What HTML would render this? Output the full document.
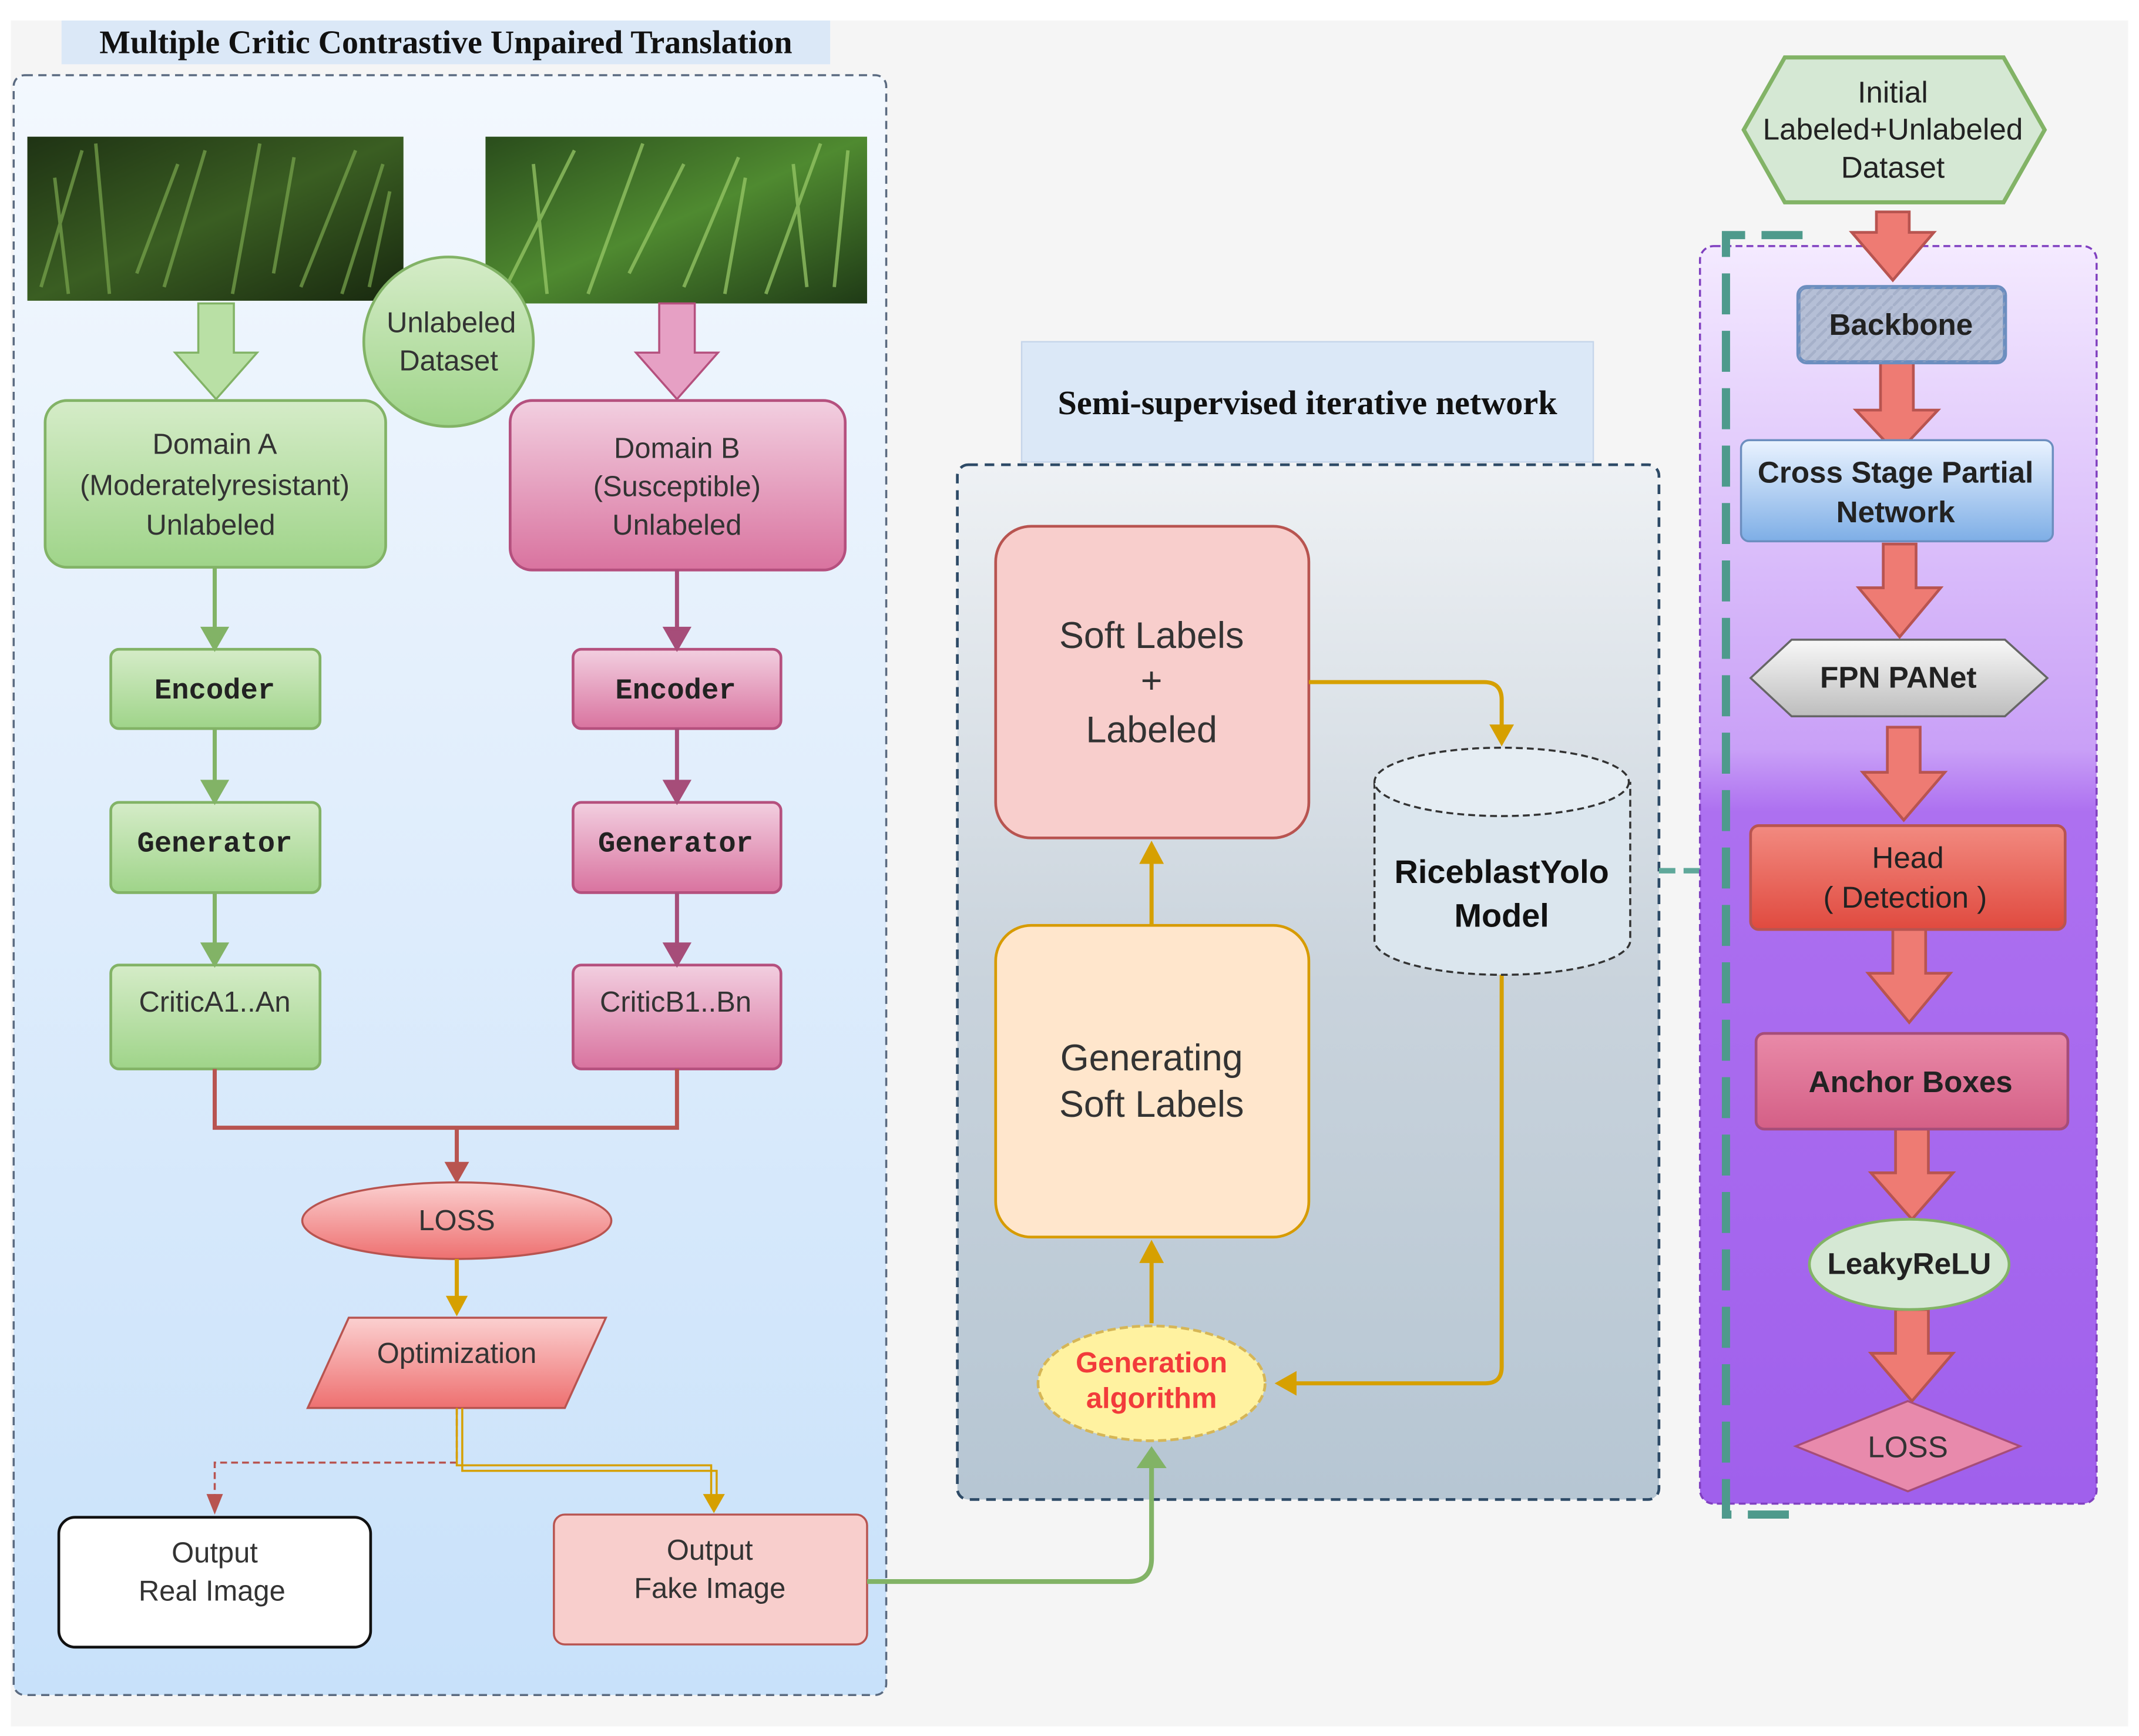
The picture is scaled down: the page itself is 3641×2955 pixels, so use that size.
<!DOCTYPE html>
<html><head><meta charset="utf-8"><style>
html,body{margin:0;padding:0;background:#fff}
svg{display:block}
</style></head><body>
<svg width="3641" height="2955" viewBox="0 0 1564 1270" preserveAspectRatio="none" xmlns="http://www.w3.org/2000/svg" font-family="Liberation Sans, DejaVu Sans, sans-serif">
<defs>
<linearGradient id="lb" x1="0" y1="0" x2="0" y2="1"><stop offset="0" stop-color="#f3f8fe"/><stop offset="0.4" stop-color="#e3effc"/><stop offset="1" stop-color="#c8e1fa"/></linearGradient>
<linearGradient id="mg" x1="0" y1="0" x2="0" y2="1"><stop offset="0" stop-color="#eef1f4"/><stop offset="0.5" stop-color="#c9d3dc"/><stop offset="1" stop-color="#b6c6d3"/></linearGradient>
<linearGradient id="pp" x1="0" y1="0" x2="0" y2="1"><stop offset="0" stop-color="#f4eaff"/><stop offset="0.4" stop-color="#c9a0f7"/><stop offset="0.45" stop-color="#ad70f0"/><stop offset="1" stop-color="#a060ec"/></linearGradient>
<linearGradient id="gA" x1="0" y1="0" x2="0" y2="1"><stop offset="0" stop-color="#d5ecc8"/><stop offset="1" stop-color="#9fd489"/></linearGradient>
<linearGradient id="pB" x1="0" y1="0" x2="0" y2="1"><stop offset="0" stop-color="#f2cfe0"/><stop offset="1" stop-color="#d9739f"/></linearGradient>
<linearGradient id="rd" x1="0" y1="0" x2="0" y2="1"><stop offset="0" stop-color="#fbd0d0"/><stop offset="1" stop-color="#ee7070"/></linearGradient>
<linearGradient id="bl" x1="0" y1="0" x2="0" y2="1"><stop offset="0" stop-color="#eaf3ff"/><stop offset="1" stop-color="#7eaee6"/></linearGradient>
<linearGradient id="gr" x1="0" y1="0" x2="0" y2="1"><stop offset="0" stop-color="#f8f8f8"/><stop offset="1" stop-color="#bdbdbd"/></linearGradient>
<linearGradient id="hd" x1="0" y1="0" x2="0" y2="1"><stop offset="0" stop-color="#f28a80"/><stop offset="1" stop-color="#e04a3f"/></linearGradient>
<linearGradient id="an" x1="0" y1="0" x2="0" y2="1"><stop offset="0" stop-color="#e98aa8"/><stop offset="1" stop-color="#d45f86"/></linearGradient>
<linearGradient id="grass1" x1="0" y1="0" x2="1" y2="1"><stop offset="0" stop-color="#1f3314"/><stop offset="0.5" stop-color="#3a5e22"/><stop offset="1" stop-color="#18280f"/></linearGradient>
<linearGradient id="grass2" x1="0" y1="0" x2="1" y2="1"><stop offset="0" stop-color="#2a4d1c"/><stop offset="0.5" stop-color="#4f8a30"/><stop offset="1" stop-color="#1f3a16"/></linearGradient>
<pattern id="str" width="8" height="8" patternUnits="userSpaceOnUse"><path d="M0 8 L8 0" stroke="#9aa6c0" stroke-width="2"/></pattern>
</defs>
<rect x="8" y="15" width="1548" height="1248" fill="#f5f5f5"/>
<rect x="10" y="55" width="638" height="1185" rx="8" fill="url(#lb)" stroke="#5a6a80" stroke-dasharray="6 4" stroke-width="1.5"/>
<rect x="45" y="15" width="562" height="32" fill="#dbe8f7"/>
<text x="326" y="39" style="font-family:'Liberation Serif',serif" font-weight="bold" font-size="24" text-anchor="middle" fill="#111">Multiple Critic Contrastive Unpaired Translation</text>
<rect x="20" y="100" width="275" height="120" fill="url(#grass1)"/>
<rect x="355" y="100" width="279" height="122" fill="url(#grass2)"/>
<g stroke="#7aa64e" stroke-width="2.5" opacity="0.7"><path d="M30 210 L60 110 M50 215 L40 130 M80 215 L70 105 M100 200 L130 120 M120 210 L150 110 M170 215 L190 105 M200 200 L215 115 M220 210 L260 110 M250 215 L280 120 M270 210 L285 140"/></g>
<g stroke="#9ccc6a" stroke-width="2.5" opacity="0.7"><path d="M370 210 L420 110 M400 215 L390 120 M430 215 L470 105 M460 200 L500 120 M500 210 L540 115 M530 215 L545 130 M560 215 L600 105 M590 210 L580 120 M610 210 L620 110"/></g>
<circle cx="328" cy="250" r="62" fill="url(#gA)" stroke="#82b366" stroke-width="2"/>
<text x="330" y="243" font-size="21" text-anchor="middle" fill="#333">Unlabeled</text>
<text x="328" y="271" font-size="21" text-anchor="middle" fill="#333">Dataset</text>
<path d="M145 222 H171 V258 H188 L158 292 L128 258 H145 Z" fill="#b9e0a5" stroke="#82b366" stroke-width="1.5"/>
<path d="M482 222 H508 V258 H525 L495 292 L465 258 H482 Z" fill="#e6a0c4" stroke="#b5507e" stroke-width="1.5"/>
<rect x="33" y="293" width="249" height="122" rx="16" fill="url(#gA)" stroke="#82b366" stroke-width="2"/>
<text x="157" y="332" font-size="21" text-anchor="middle" fill="#333">Domain A</text>
<text x="157" y="362" font-size="21" text-anchor="middle" fill="#333">(Moderatelyresistant)</text>
<text x="154" y="391" font-size="21" text-anchor="middle" fill="#333">Unlabeled</text>
<rect x="373" y="293" width="245" height="124" rx="16" fill="url(#pB)" stroke="#b5507e" stroke-width="2"/>
<text x="495" y="335" font-size="21" text-anchor="middle" fill="#333">Domain B</text>
<text x="495" y="363" font-size="21" text-anchor="middle" fill="#333">(Susceptible)</text>
<text x="495" y="391" font-size="21" text-anchor="middle" fill="#333">Unlabeled</text>
<g style="font-family:'Liberation Mono',monospace" font-weight="bold" font-size="21" text-anchor="middle" fill="#222">
<rect x="81" y="475" width="153" height="58" rx="6" fill="url(#gA)" stroke="#82b366" stroke-width="2"/><text x="157" y="511">Encoder</text>
<rect x="81" y="587" width="153" height="66" rx="6" fill="url(#gA)" stroke="#82b366" stroke-width="2"/><text x="157" y="623">Generator</text>
<rect x="419" y="475" width="152" height="58" rx="6" fill="url(#pB)" stroke="#b5507e" stroke-width="2"/><text x="494" y="511">Encoder</text>
<rect x="419" y="587" width="152" height="66" rx="6" fill="url(#pB)" stroke="#b5507e" stroke-width="2"/><text x="494" y="623">Generator</text>
</g>
<rect x="81" y="706" width="153" height="76" rx="6" fill="url(#gA)" stroke="#82b366" stroke-width="2"/><text x="157" y="740" font-size="21" text-anchor="middle" fill="#333">CriticA1..An</text>
<rect x="419" y="706" width="152" height="76" rx="6" fill="url(#pB)" stroke="#b5507e" stroke-width="2"/><text x="494" y="740" font-size="21" text-anchor="middle" fill="#333">CriticB1..Bn</text>
<g stroke="#82b366" stroke-width="3" fill="#82b366"><path d="M157 415 V462 M157 533 V574 M157 653 V693" fill="none"/><path d="M149 460 L157 474 L165 460Z M149 572 L157 586 L165 572Z M149 691 L157 705 L165 691Z"/></g>
<g stroke="#a64d79" stroke-width="3" fill="#a64d79"><path d="M495 417 V462 M495 533 V574 M495 653 V693" fill="none"/><path d="M487 460 L495 474 L503 460Z M487 572 L495 586 L503 572Z M487 691 L495 705 L503 691Z"/></g>
<path d="M157 782 V825 H495 V782 M334 825 V852" stroke="#b85450" stroke-width="3" fill="none"/>
<path d="M325 850 L334 866 L343 850Z" fill="#b85450"/>
<ellipse cx="334" cy="893" rx="113" ry="28" fill="url(#rd)" stroke="#b85450" stroke-width="1.5"/>
<text x="334" y="900" font-size="21" text-anchor="middle" fill="#333">LOSS</text>
<path d="M334 921 V950" stroke="#d6a000" stroke-width="3"/><path d="M326 948 L334 963 L342 948Z" fill="#d6a000"/>
<path d="M255 964 H443 L413 1030 H225 Z" fill="url(#rd)" stroke="#b85450" stroke-width="1.5"/>
<text x="334" y="997" font-size="21" text-anchor="middle" fill="#333">Optimization</text>
<path d="M334 1030 V1070 H157 V1095" stroke="#b85450" stroke-width="1.5" stroke-dasharray="5 3" fill="none"/>
<path d="M151 1093 L157 1108 L163 1093Z" fill="#b85450"/>
<path d="M334 1030 V1072 H520 V1095 M338 1030 V1076 H524 V1095" stroke="#d6a000" stroke-width="1.5" fill="none"/>
<path d="M514 1093 L522 1107 L530 1093Z" fill="#d6a000"/>
<rect x="43" y="1110" width="228" height="95" rx="12" fill="#fff" stroke="#111" stroke-width="2"/>
<text x="157" y="1143" font-size="21" text-anchor="middle" fill="#333">Output</text>
<text x="155" y="1171" font-size="21" text-anchor="middle" fill="#333">Real Image</text>
<rect x="405" y="1108" width="229" height="95" rx="8" fill="#f8cecc" stroke="#b85450" stroke-width="1.5"/>
<text x="519" y="1141" font-size="21" text-anchor="middle" fill="#333">Output</text>
<text x="519" y="1169" font-size="21" text-anchor="middle" fill="#333">Fake Image</text>
<rect x="747" y="250" width="418" height="88" fill="#dbe8f7" stroke="#c5d5ea"/>
<text x="956" y="303" style="font-family:'Liberation Serif',serif" font-weight="bold" font-size="25" text-anchor="middle" fill="#111">Semi-supervised iterative network</text>
<rect x="700" y="340" width="513" height="757" rx="8" fill="url(#mg)" stroke="#2d4a66" stroke-width="2" stroke-dasharray="7 5"/>
<path d="M634 1157 H825 Q842 1157 842 1140 V1070" stroke="#82b366" stroke-width="3.5" fill="none"/>
<path d="M831 1074 L842 1058 L853 1074Z" fill="#82b366"/>
<rect x="728" y="385" width="229" height="228" rx="26" fill="#f8cecc" stroke="#b85450" stroke-width="2"/>
<text x="842" y="474" font-size="27" text-anchor="middle" fill="#333">Soft Labels</text>
<text x="842" y="507" font-size="27" text-anchor="middle" fill="#333">+</text>
<text x="842" y="543" font-size="27" text-anchor="middle" fill="#333">Labeled</text>
<rect x="728" y="677" width="229" height="228" rx="26" fill="#ffe6cc" stroke="#d79b00" stroke-width="2"/>
<text x="842" y="783" font-size="27" text-anchor="middle" fill="#333">Generating</text>
<text x="842" y="817" font-size="27" text-anchor="middle" fill="#333">Soft Labels</text>
<g stroke="#d6a000" stroke-width="3" fill="none"><path d="M842 677 V628"/><path d="M842 968 V920"/><path d="M957 499 H1085 Q1098 499 1098 512 V532"/><path d="M1098 713 V1000 Q1098 1012 1086 1012 H946"/></g>
<g fill="#d6a000"><path d="M833 632 L842 615 L851 632Z"/><path d="M833 924 L842 907 L851 924Z"/><path d="M1089 530 L1098 546 L1107 530Z"/><path d="M948 1003 L932 1012 L948 1021Z"/></g>
<path d="M1005 572 V688 A93 25 0 0 0 1192 688 V572" fill="#dbe6ee" stroke="#333" stroke-width="1.5" stroke-dasharray="5 3"/>
<ellipse cx="1098" cy="572" rx="93" ry="25" fill="#e5edf3" stroke="#333" stroke-width="1.5" stroke-dasharray="5 3"/>
<text x="1098" y="646" font-weight="bold" font-size="24" text-anchor="middle" fill="#111">RiceblastYolo</text>
<text x="1098" y="678" font-weight="bold" font-size="24" text-anchor="middle" fill="#111">Model</text>
<ellipse cx="842" cy="1012" rx="83" ry="42" fill="#fff2a0" stroke="#d6b656" stroke-width="2" stroke-dasharray="6 3"/>
<text x="842" y="1004" font-weight="bold" font-size="21" text-anchor="middle" fill="#f23b3b">Generation</text>
<text x="842" y="1030" font-weight="bold" font-size="21" text-anchor="middle" fill="#f23b3b">algorithm</text>
<path d="M1213 637 H1243" stroke="#5fa89a" stroke-width="4" stroke-dasharray="12 6"/>
<rect x="1243" y="180" width="290" height="920" rx="10" fill="url(#pp)" stroke="#8040c0" stroke-width="1.5" stroke-dasharray="5 3"/>
<path d="M1318 172 H1262 V1108 H1318" stroke="#4e9a8c" stroke-width="6" fill="none" stroke-dasharray="30 12"/>
<path d="M1305 42 H1465 L1495 95 L1465 148 H1305 L1275 95 Z" fill="#d5e8d4" stroke="#82b366" stroke-width="3"/>
<text x="1384" y="75" font-size="22" text-anchor="middle" fill="#222">Initial</text>
<text x="1384" y="102" font-size="22" text-anchor="middle" fill="#222">Labeled+Unlabeled</text>
<text x="1384" y="130" font-size="22" text-anchor="middle" fill="#222">Dataset</text>
<g fill="#ee7b73" stroke="#b85450" stroke-width="2">
<path d="M1372 155 H1396 V170 H1414 L1384 205 L1354 170 H1372 Z"/>
<path d="M1375 265 H1399 V300 H1417 L1387 332 L1357 300 H1375 Z"/>
<path d="M1377 398 H1401 V430 H1419 L1389 466 L1359 430 H1377 Z"/>
<path d="M1380 532 H1404 V565 H1422 L1392 600 L1362 565 H1380 Z"/>
<path d="M1384 680 H1408 V712 H1426 L1396 748 L1366 712 H1384 Z"/>
<path d="M1386 826 H1410 V858 H1428 L1398 892 L1368 858 H1386 Z"/>
<path d="M1386 958 H1410 V990 H1428 L1398 1025 L1368 990 H1386 Z"/>
</g>
<rect x="1315" y="210" width="151" height="55" rx="6" fill="#b5bfd6" stroke="#6c8ebf" stroke-width="3"/>
<rect x="1315" y="210" width="151" height="55" rx="6" fill="url(#str)" opacity="0.6"/>
<text x="1390" y="245" font-weight="bold" font-size="22" text-anchor="middle" fill="#222">Backbone</text>
<rect x="1273" y="322" width="228" height="74" rx="6" fill="url(#bl)" stroke="#6c8ebf" stroke-width="1.5"/>
<text x="1386" y="353" font-weight="bold" font-size="22" text-anchor="middle" fill="#222">Cross Stage Partial</text>
<text x="1386" y="382" font-weight="bold" font-size="22" text-anchor="middle" fill="#222">Network</text>
<path d="M1310 468 H1466 L1497 496 L1466 524 H1310 L1280 496 Z" fill="url(#gr)" stroke="#666" stroke-width="1.5"/>
<text x="1388" y="503" font-weight="bold" font-size="22" text-anchor="middle" fill="#222">FPN PANet</text>
<rect x="1280" y="604" width="230" height="76" rx="6" fill="url(#hd)" stroke="#b85450" stroke-width="2"/>
<text x="1395" y="635" font-size="22" text-anchor="middle" fill="#222">Head</text>
<text x="1393" y="664" font-size="22" text-anchor="middle" fill="#222">( Detection )</text>
<rect x="1284" y="756" width="228" height="70" rx="6" fill="url(#an)" stroke="#a64d79" stroke-width="2"/>
<text x="1397" y="799" font-weight="bold" font-size="22" text-anchor="middle" fill="#222">Anchor Boxes</text>
<ellipse cx="1396" cy="925" rx="73" ry="33" fill="#d5e8d4" stroke="#82b366" stroke-width="2"/>
<text x="1396" y="932" font-weight="bold" font-size="22" text-anchor="middle" fill="#222">LeakyReLU</text>
<path d="M1395 1025 L1477 1058 L1395 1091 L1313 1058 Z" fill="#e88aac" stroke="#a64d79" stroke-width="1.5"/>
<text x="1395" y="1066" font-size="22" text-anchor="middle" fill="#333">LOSS</text>
</svg>
</body></html>
